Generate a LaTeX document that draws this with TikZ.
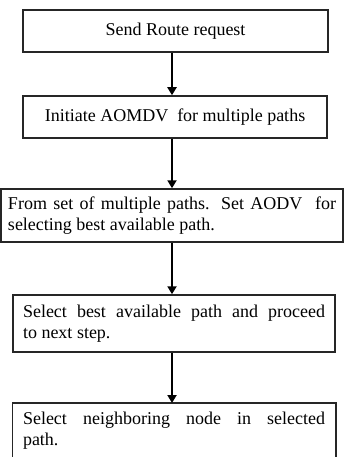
\documentclass[tikz,border=0pt]{standalone}
\usepackage{fontspec}
\setmainfont{Liberation Serif}
\usetikzlibrary{arrows.meta}
\begin{document}
\begin{tikzpicture}[x=1pt,y=-1pt,
  boxline/.style={draw=black!85, line width=1.5pt},
  box/.style={boxline, inner ysep=0pt, font=\fontsize{18}{20.5}\selectfont},
  parbox/.style={box, align=justify},
  flow/.style={-{Triangle[length=8pt,width=9pt]}, line width=2.6pt}]
\clip (0,0) rectangle (345,457);
\fill[white] (0,0) rectangle (345,457);

% process steps
\node[box, minimum width=305pt, minimum height=42pt] (b1) at (175.5,31) {Send Route request};
\node[box, minimum width=304pt, minimum height=42pt] (b2) at (175,117) {Initiate AOMDV\ \ for multiple paths};
\node[parbox, text width=328pt, inner xsep=7pt, minimum height=53pt] (b3) at (172,215.5)
  {From set of multiple paths. Set AODV\ \ for\linebreak selecting best available path.};
\node[parbox, text width=302pt, inner xsep=10pt, minimum height=57pt] (b4) at (174,323.5)
  {Select best available path and proceed\linebreak to next step.};
\node[box, draw=none, align=justify, text width=302pt, inner xsep=10pt, inner ysep=8.5pt, anchor=north] (b5) at (174,403)
  {Select neighboring node in selected\linebreak path.};
\draw[boxline] ([yshift=-70pt]b5.north west) -- (b5.north west) -- (b5.north east) -- ([yshift=-70pt]b5.north east);

% connectors
\draw[flow] (b1.south -| b3) -- (b2.north -| b3);
\draw[flow] (b2.south -| b3) -- (b3.north);
\draw[flow] (b3.south) -- (b4.north -| b3);
\draw[flow] (b4.south -| b3) -- (b5.north -| b3);
\end{tikzpicture}
\end{document}
